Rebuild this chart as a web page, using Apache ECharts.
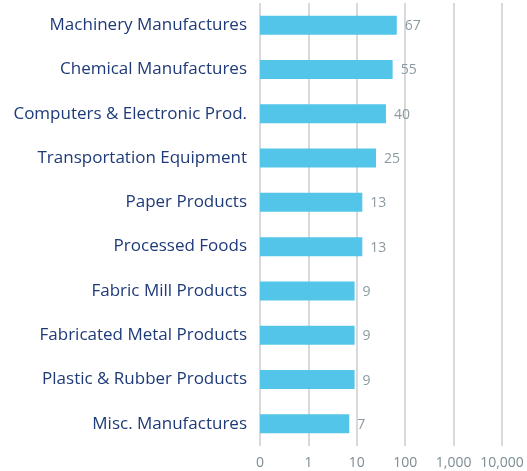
<!DOCTYPE html>
<html>
<head>
<meta charset="utf-8">
<script src="https://cdn.jsdelivr.net/npm/echarts@6/dist/echarts.min.js"></script>
<style>
html,body{margin:0;padding:0;background:#fff;}
#chart{width:527px;height:471px;}
</style>
</head>
<body>
<div id="chart"></div>
<script>
var categories = ['Machinery Manufactures','Chemical Manufactures','Computers & Electronic Prod.','Transportation Equipment','Paper Products','Processed Foods','Fabric Mill Products','Fabricated Metal Products','Plastic & Rubber Products','Misc. Manufactures'];
var values = [67, 55, 40, 25, 13, 13, 9, 9, 9, 7];
var tickLabels = {'0.1':'0','1':'1','10':'10','100':'100','1000':'1,000','10000':'10,000'};
var axisMin = 0.1;

var chart = echarts.init(document.getElementById('chart'));
chart.setOption({
  animation: false,
  grid: { left: 260, right: 25, top: 3, bottom: 25, containLabel: false },
  xAxis: {
    type: 'log',
    logBase: 10,
    min: axisMin,
    max: 10000,
    axisLine: { show: false },
    axisTick: { show: false },
    splitLine: { show: true, lineStyle: { color: '#cccccc', width: 1.5 } },
    axisLabel: {
      color: '#7d8c93',
      fontFamily: 'Open Sans',
      fontSize: 14,
      margin: 10,
      formatter: function (v) {
        var k = String(Math.round(v * 10) / 10);
        return tickLabels[k] !== undefined ? tickLabels[k] : '';
      }
    }
  },
  yAxis: {
    type: 'category',
    inverse: true,
    data: categories,
    axisLine: { show: false },
    axisTick: { show: false },
    axisLabel: { color: '#1e3a78', fontFamily: 'Open Sans', fontSize: 17, margin: 13 }
  },
  series: [{
    type: 'custom',
    data: values.map(function (v, i) { return [v, i]; }),
    encode: { x: 0, y: 1 },
    renderItem: function (params, api) {
      var idx = api.value(1);
      var start = api.coord([axisMin, idx]);
      var end = api.coord([api.value(0), idx]);
      var h = 19;
      return {
        type: 'group',
        children: [{
          type: 'rect',
          shape: { x: start[0], y: start[1] - h / 2, width: end[0] - start[0], height: h },
          style: { fill: '#53c5e8' }
        }, {
          type: 'text',
          x: end[0] + 8,
          y: end[1] + 1,
          style: {
            text: String(api.value(0)),
            fill: '#8a9ba1',
            font: '14px "Open Sans"',
            verticalAlign: 'middle',
            align: 'left'
          }
        }]
      };
    }
  }]
});
</script>
</body>
</html>
